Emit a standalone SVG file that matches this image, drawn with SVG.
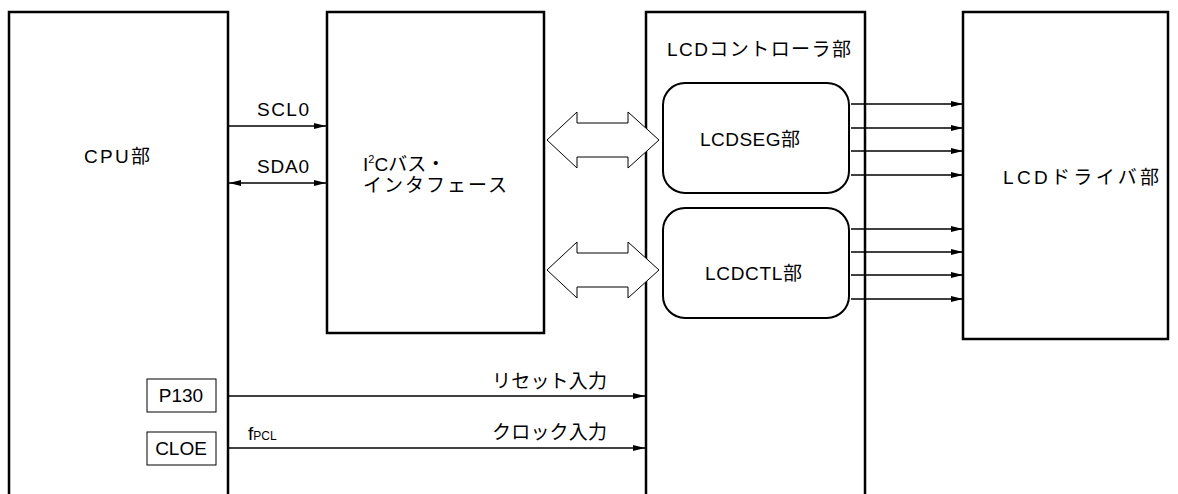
<svg xmlns="http://www.w3.org/2000/svg" width="1178" height="494" viewBox="0 0 1178 494">
<style>
.box{fill:#fff;stroke:#000;stroke-width:2.5}
.rbox{fill:#fff;stroke:#000;stroke-width:2}
.sbox{fill:#fff;stroke:#000;stroke-width:1}
.ln{fill:none;stroke:#000;stroke-width:1.4}
.hollow{fill:#fff;stroke:#000;stroke-width:1}
text{font-family:"Liberation Sans","Noto Sans CJK JP",sans-serif;font-size:19px;fill:#000}
</style>
<defs>
<marker id="ah" viewBox="0 0 12 6" refX="12" refY="3" markerWidth="12" markerHeight="6" markerUnits="userSpaceOnUse" orient="auto-start-reverse">
<path d="M0,0 L12,3 L0,6 Z" fill="#000"/>
</marker>
</defs>
<g id="cpu">
<rect class="box" x="9" y="12" width="219" height="500"/>
<text x="84" y="163" textLength="66">CPU部</text>
</g>
<g id="p130">
<rect class="sbox" x="147" y="379" width="69" height="33"/>
<text x="181" y="402" text-anchor="middle">P130</text>
</g>
<g id="cloe">
<rect class="sbox" x="147" y="432" width="69" height="33"/>
<text x="181" y="455" text-anchor="middle">CLOE</text>
</g>
<g id="i2c">
<rect class="box" x="327" y="12" width="217" height="321"/>
<text x="363" y="171">I<tspan font-size="11" dy="-8">2</tspan><tspan dy="8">Cバス・</tspan></text>
<text x="363" y="192" textLength="144">インタフェース</text>
</g>
<g id="lcdctrl">
<rect class="box" x="646" y="12" width="219" height="500"/>
<text x="667" y="56" textLength="184">LCDコントローラ部</text>
</g>
<g id="lcdseg">
<rect class="rbox" x="663" y="83" width="186" height="110" rx="22"/>
<text x="700" y="146" textLength="100">LCDSEG部</text>
</g>
<g id="lcdctl">
<rect class="rbox" x="663" y="208" width="186" height="110" rx="22"/>
<text x="705" y="280" textLength="97">LCDCTL部</text>
</g>
<g id="driver">
<rect class="box" x="963" y="12" width="205" height="327"/>
<text x="1003" y="184" textLength="156">LCDドライバ部</text>
</g>
<g id="connectors">
<line class="ln" x1="228" y1="126" x2="326" y2="126" marker-end="url(#ah)"/>
<line class="ln" x1="229" y1="183" x2="326" y2="183" marker-start="url(#ah)" marker-end="url(#ah)"/>
<text x="257" y="116" textLength="52">SCL0</text>
<text x="257" y="173" textLength="52">SDA0</text>
<path class="hollow" d="M547,140 L577,112 L577,123 L628,123 L628,112 L659,140 L628,168 L628,157 L577,157 L577,168 Z"/>
<path class="hollow" d="M547,270 L577,242 L577,253 L628,253 L628,242 L659,270 L628,298 L628,287 L577,287 L577,298 Z"/>
<line class="ln" x1="851" y1="104" x2="963" y2="104" marker-end="url(#ah)"/>
<line class="ln" x1="851" y1="128" x2="963" y2="128" marker-end="url(#ah)"/>
<line class="ln" x1="851" y1="151" x2="963" y2="151" marker-end="url(#ah)"/>
<line class="ln" x1="851" y1="175" x2="963" y2="175" marker-end="url(#ah)"/>
<line class="ln" x1="851" y1="229" x2="963" y2="229" marker-end="url(#ah)"/>
<line class="ln" x1="851" y1="252" x2="963" y2="252" marker-end="url(#ah)"/>
<line class="ln" x1="851" y1="275" x2="963" y2="275" marker-end="url(#ah)"/>
<line class="ln" x1="851" y1="299" x2="963" y2="299" marker-end="url(#ah)"/>
<line class="ln" x1="229" y1="396" x2="645" y2="396" marker-end="url(#ah)"/>
<line class="ln" x1="229" y1="448" x2="645" y2="448" marker-end="url(#ah)"/>
<text x="492" y="388" textLength="115">リセット入力</text>
<text x="492" y="439" textLength="115">クロック入力</text>
<text x="248" y="440">f<tspan font-size="12">PCL</tspan></text>
</g>
</svg>
